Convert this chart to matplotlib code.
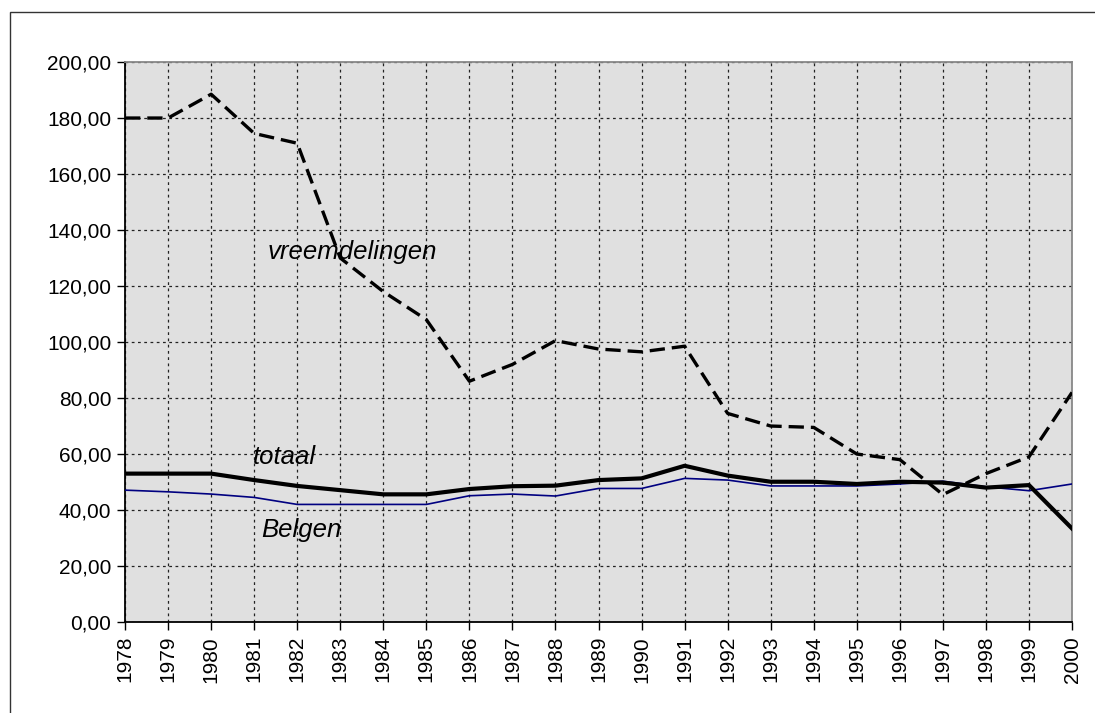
import matplotlib.pyplot as plt
import numpy as np

plt.rcParams['font.family'] = ['Liberation Sans', 'DejaVu Sans']
plt.rcParams['lines.scale_dashes'] = False

years = list(range(1978, 2001))
vreemdelingen = [180, 180, 188.5, 174.5, 171, 130, 118, 108, 86, 92, 100.5, 97.5, 96.5,
                 98.5, 74.5, 70, 69.5, 60, 58, 45.5, 53, 59, 82]
totaal = [53, 53, 53, 50.7, 48.6, 47.1, 45.6, 45.6, 47.5, 48.5, 48.7, 50.7, 51.3,
          55.8, 52.3, 50.1, 50.1, 49.3, 50.1, 49.8, 48, 48.9, 33.4]
belgen = [47.1, 46.5, 45.7, 44.5, 42, 42, 42, 42, 45.1, 45.7, 45, 47.7, 47.7,
          51.3, 50.7, 48.6, 48.6, 48.6, 49.3, 50.3, 48.3, 46.9, 49.3]
yticks = np.arange(0, 201, 20)

fig = plt.figure(figsize=(10.95, 7.13), dpi=100)
ax = fig.add_axes([0.1142, 0.1276, 0.979 - 0.1142, 0.913 - 0.1276])
ax.set_facecolor('#e0e0e0')

# outer chart border (only left/top visible)
fig.patches.append(plt.Rectangle((10 / 1095, -0.1), 1.2, 1 - 12 / 713 + 0.1,
                                 transform=fig.transFigure, fill=False,
                                 edgecolor='#333333', linewidth=1))

x = np.array(years)
ax.plot(x, belgen, color='#000080', linewidth=1.2, zorder=3)
ax.plot(x, totaal, color='black', linewidth=3, zorder=4)
ax.plot(x, vreemdelingen, color='black', linewidth=2.4, linestyle=(0, (11, 5)), zorder=5)

ax.set_xlim(1978, 2000)
ax.set_ylim(0, 200)
ax.set_xticks(years)
ax.set_xticklabels([str(y) for y in years], rotation=90, fontsize=15)
ax.set_yticks(yticks)
ax.set_yticklabels([f"{v:.2f}".replace('.', ',') for v in yticks], fontsize=15)
ax.tick_params(direction='out', length=6, width=1, color='black', pad=4)

ax.grid(True, color='#222222', linestyle=(0, (2, 2.5)), linewidth=0.9)
ax.set_axisbelow(True)
for s in ['left', 'bottom']:
    ax.spines[s].set_color('black')
    ax.spines[s].set_linewidth(1.3)
for s in ['top', 'right']:
    ax.spines[s].set_color('#888888')
    ax.spines[s].set_linewidth(1.3)

ax.text(1983.27, 132.3, 'vreemdelingen', fontsize=18.5, style='italic', ha='center', va='center')
ax.text(1981.7, 59, 'totaal', fontsize=18.5, style='italic', ha='center', va='center')
ax.text(1982.1, 32.9, 'Belgen', fontsize=18.5, style='italic', ha='center', va='center')

fig.savefig('out.png', dpi=100)
